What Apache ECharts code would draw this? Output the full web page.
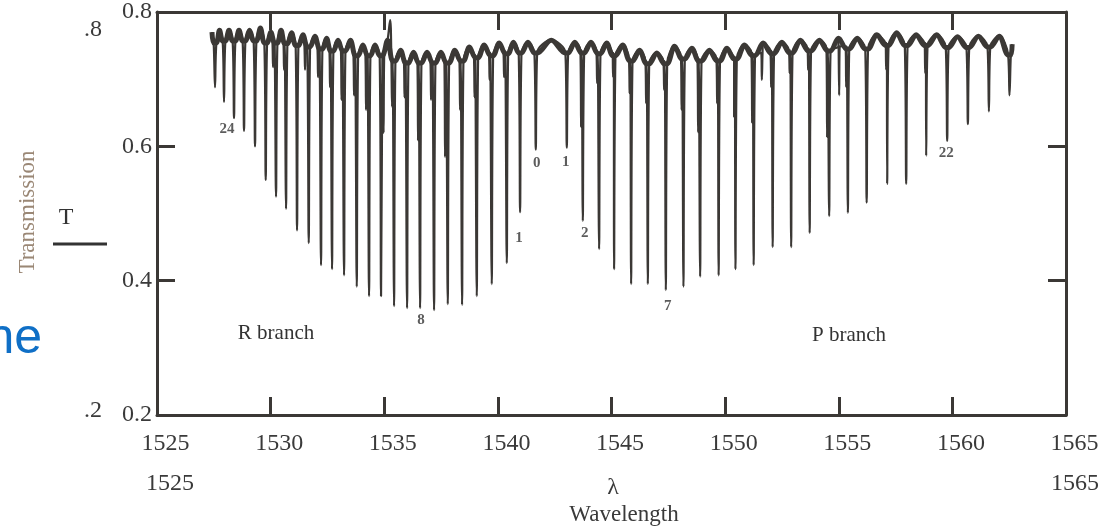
<!DOCTYPE html>
<html>
<head>
<meta charset="utf-8">
<title>Transmission spectrum</title>
<script src="https://cdn.jsdelivr.net/npm/echarts@6/dist/echarts.min.js"></script>
<style>
  html, body { margin: 0; padding: 0; background: #fff; }
  #chart { width: 1113px; height: 528px; }
</style>
</head>
<body>
<div id="chart"></div>
<script>
// strong absorption lines: R branch (R24..R0 side) then P branch
const lineWavelengths = [
  1527.553, 1527.949, 1528.389, 1528.829, 1529.313, 1529.784, 1530.238, 1530.678, 1531.162,
  1531.677, 1532.218, 1532.702, 1533.231, 1533.790, 1534.331, 1534.859, 1535.431, 1536.004,
  1536.576, 1537.192, 1537.795, 1538.424, 1539.071, 1539.731, 1540.392, 1540.977, 1541.668,
  1543.033, 1543.737, 1544.454, 1545.114, 1545.863, 1546.598, 1547.390, 1548.165, 1548.900,
  1549.714, 1550.454, 1551.255, 1552.091, 1552.905, 1553.720, 1554.578, 1555.401, 1556.228,
  1557.130, 1557.967, 1558.847, 1559.771, 1560.682, 1561.607, 1562.513
]
const lineMinima = [
  0.688, 0.666, 0.642, 0.623, 0.600, 0.550, 0.525, 0.507, 0.475,
  0.456, 0.423, 0.417, 0.408, 0.391, 0.377, 0.377, 0.362, 0.359,
  0.359, 0.356, 0.365, 0.364, 0.377, 0.395, 0.426, 0.502, 0.595,
  0.598, 0.489, 0.447, 0.417, 0.395, 0.395, 0.386, 0.391, 0.406,
  0.408, 0.417, 0.423, 0.450, 0.450, 0.471, 0.496, 0.501, 0.516,
  0.544, 0.544, 0.586, 0.608, 0.633, 0.652, 0.676
]
// baseline peak between each pair of neighbouring strong lines
const gapPeaks = [
  0.773, 0.773, 0.773, 0.773, 0.776, 0.770, 0.773, 0.769, 0.766, 0.764,
  0.761, 0.758, 0.758, 0.751, 0.751, 0.758, 0.743, 0.740, 0.740, 0.740,
  0.743, 0.748, 0.751, 0.754, 0.755, 0.755, 0.758, 0.755, 0.755, 0.754,
  0.751, 0.743, 0.739, 0.749, 0.746, 0.743, 0.746, 0.751, 0.754, 0.755,
  0.758, 0.758, 0.761, 0.761, 0.766, 0.769, 0.766, 0.766, 0.763, 0.764,
  0.764
]
// weaker (hot band) lines
const hotWavelengths = [
  1530.106, 1530.590, 1531.514, 1532.086, 1532.614, 1533.121, 1533.671, 1534.199, 1534.970,
  1535.343, 1535.893, 1536.488, 1537.060, 1537.676, 1538.336, 1538.974, 1539.635, 1540.273,
  1543.662, 1544.366, 1545.070, 1545.797, 1546.523, 1547.315, 1548.085, 1548.812, 1549.648,
  1550.396, 1551.189, 1551.616, 1552.025, 1552.839, 1553.653, 1554.489, 1555.018, 1555.326,
  1557.086, 1558.803
]
const hotMinima = [
  0.718, 0.714, 0.714, 0.703, 0.688, 0.669, 0.676, 0.654, 0.620,
  0.659, 0.673, 0.609, 0.669, 0.584, 0.654, 0.673, 0.699, 0.703,
  0.629, 0.694, 0.703, 0.679, 0.664, 0.684, 0.654, 0.621, 0.664,
  0.644, 0.635, 0.699, 0.688, 0.709, 0.714, 0.614, 0.676, 0.688,
  0.714, 0.709
]
const traceStart = [1527.42, 0.770]
const traceEnd = [1562.63, 0.752]
const spikes = [[1535.26, 0.788]]

// line numbers written under some dips (index into the strong lines)
const labelLines = [2, 26, 25, 18, 27, 28, 33, 48]
const labelTexts = ['24', '0', '1', '8', '1', '2', '7', '22']

const xTicks = { min: 1525, max: 1565, interval: 5 }
const yTicks = { min: 0.2, max: 0.8, interval: 0.2 }

// build the trace polyline; the band keeps the same points minus the line minima
const pts = [traceStart]
const band = [traceStart]
const shoulders = []
lineWavelengths.forEach((c, i) => {
  const left = i === 0 ? traceStart[1] : gapPeaks[i - 1]
  const right = i === lineWavelengths.length - 1 ? traceEnd[1] : gapPeaks[i]
  const sh = Math.min(left, right) - 0.016
  shoulders.push(sh)
  pts.push([c - 0.06, sh], [c, lineMinima[i]], [c + 0.06, sh])
  band.push([c - 0.06, sh], [c + 0.06, sh])
  if (i < gapPeaks.length) {
    const peak = [(c + lineWavelengths[i + 1]) / 2, gapPeaks[i]]
    pts.push(peak)
    band.push(peak)
  }
})
hotWavelengths.forEach((h, i) => {
  let k = 0
  lineWavelengths.forEach((c, j) => {
    if (Math.abs(c - h) < Math.abs(lineWavelengths[k] - h)) k = j
  })
  const sh = shoulders[k] + 0.004
  pts.push([h - 0.03, sh], [h, hotMinima[i]], [h + 0.03, sh])
})
spikes.forEach(s => pts.push(s))
pts.push(traceEnd)
band.push(traceEnd)
pts.sort((a, b) => a[0] - b[0])

const ink = '#3b3835'
const serif = '"Liberation Serif", "DejaVu Serif", serif'
const labelOffsets = [[-7, 0], [1, 2], [-1, 14], [1, 0], [-1, 3], [2, 1], [2, 5], [-1, 1]]

const labelData = labelLines.map((idx, n) => ({
  value: [lineWavelengths[idx], lineMinima[idx]],
  label: { formatter: labelTexts[n], offset: labelOffsets[n] }
}))

const txt = (x, y, text, font, fill, align, extra) => Object.assign({
  type: 'text', x, y,
  style: { text, font, fill, textAlign: align, align, textVerticalAlign: 'middle', verticalAlign: 'middle' }
}, extra || {})

const chart = echarts.init(document.getElementById('chart'))
const axisBase = {
  type: 'value',
  ...xTicks,
  axisLine: { show: true, lineStyle: { color: ink, width: 3 } },
  axisTick: { show: true, inside: true, length: 18, lineStyle: { color: ink, width: 3 } },
  splitLine: { show: false }
}
chart.setOption({
  animation: false,
  grid: { left: 157, right: 47, top: 12, bottom: 113 },
  xAxis: [
    {
      ...axisBase,
      position: 'bottom',
      axisLabel: {
        color: '#3a3a3a', fontFamily: serif, fontSize: 24, margin: 17, padding: [0, 0, 0, 17],
        formatter: v => String(v)
      }
    },
    { ...axisBase, position: 'top', axisLabel: { show: false } }
  ],
  yAxis: [
    {
      ...axisBase,
      ...yTicks,
      position: 'left',
      axisLabel: {
        color: '#3a3a3a', fontFamily: serif, fontSize: 24, margin: 5,
        formatter: v => v.toFixed(1)
      }
    },
    { ...axisBase, ...yTicks, position: 'right', axisLabel: { show: false } }
  ],
  series: [
    {
      name: 'Transmission',
      type: 'line',
      data: pts,
      showSymbol: false,
      sampling: 'none',
      smooth: 0.35,
      lineStyle: { color: ink, width: 2.2 },
      z: 3
    },
    {
      name: 'baseline',
      type: 'line',
      data: band,
      showSymbol: false,
      sampling: 'none',
      smooth: 0.35,
      lineStyle: { color: ink, width: 5 },
      silent: true,
      z: 3
    },
    {
      name: 'labels',
      type: 'scatter',
      data: labelData,
      symbolSize: 0,
      label: {
        show: true, position: 'bottom', distance: 4,
        color: '#333', fontFamily: serif, fontSize: 15, fontWeight: 'bold'
      },
      silent: true,
      z: 4
    }
  ],
  graphic: [
    txt(42, 339, 'ne', '50px "Liberation Sans", Arial, sans-serif', '#0f6fc6', 'right'),
    txt(28, 212, 'Transmission', '23px "Liberation Serif", serif', '#9a8775', 'center', { rotation: Math.PI / 2 }),
    txt(66, 218, 'T', '24px "Liberation Serif", serif', '#333', 'center'),
    { type: 'line', shape: { x1: 53, y1: 244, x2: 107, y2: 244 }, style: { stroke: '#333', lineWidth: 3 } },
    txt(102, 30, '.8', '24px "Liberation Serif", serif', '#3a3a3a', 'right'),
    txt(102, 411, '.2', '24px "Liberation Serif", serif', '#3a3a3a', 'right'),
    txt(276, 333, 'R branch', '21px "Liberation Serif", serif', '#333', 'center'),
    txt(849, 335, 'P branch', '21px "Liberation Serif", serif', '#333', 'center'),
    txt(170, 484, '1525', '24px "Liberation Serif", serif', '#3a3a3a', 'center'),
    txt(1075, 484, '1565', '24px "Liberation Serif", serif', '#3a3a3a', 'center'),
    txt(613, 488, 'λ', '24px "Liberation Serif", serif', '#3a3a3a', 'center'),
    txt(624, 515, 'Wavelength', '23px "Liberation Serif", serif', '#3a3a3a', 'center')
  ]
})
</script>
</body>
</html>
